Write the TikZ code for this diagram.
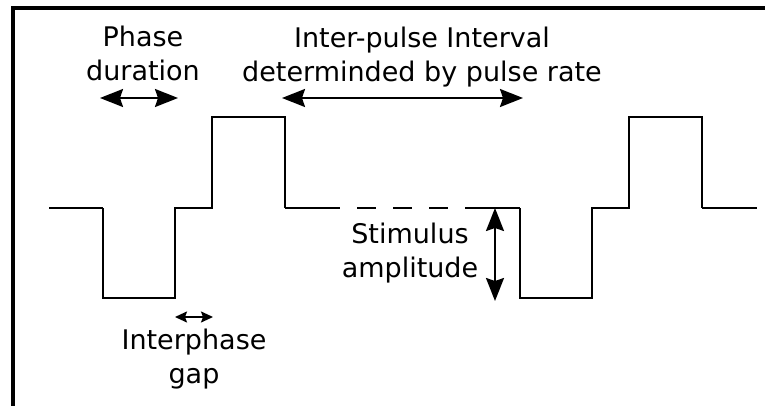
\documentclass[tikz,border=0pt]{standalone}
\usepackage{fontspec}
\setmainfont{DejaVu Sans}
\usetikzlibrary{arrows.meta}
\newcommand{\Lbl}{\fontsize{27}{34}\selectfont}

\begin{document}
\begin{tikzpicture}[x=1pt,y=-1pt,
    wave/.style={line width=1.8pt},
    bigarrow/.style={line width=2pt, {Stealth[length=23pt,width=18pt,inset=3pt]}-{Stealth[length=23pt,width=18pt,inset=3pt]}},
    smallarrow/.style={line width=1.8pt, {Stealth[length=12pt,width=11pt,inset=2pt]}-{Stealth[length=12pt,width=11pt,inset=2pt]}},
    lbl/.style={font=\Lbl, align=center, inner sep=0pt, anchor=base}]
  \useasboundingbox (0,0) rectangle (765,406);
  % frame
  \draw[line width=4pt] (12.5,406) -- (12.5,8) -- (765,8);
  % pulses
  \foreach \o in {0,417}{
    \draw[wave, line join=miter] (103+\o,208) -- (103+\o,298) -- (175+\o,298) -- (175+\o,208)
      -- (212+\o,208) -- (212+\o,117) -- (285+\o,117) -- (285+\o,208);
  }
  \draw[wave] (49,208) -- (103,208);
  \draw[wave] (285,208) -- (338,208);
  \draw[wave, dash pattern=on 19pt off 17pt, dash phase=17pt] (338,208) -- (467,208);
  \draw[wave] (467,208) -- (520,208);
  \draw[wave] (702,208) -- (757,208);
  % labels
  \node[lbl] (phase) at (143,81) {Phase\\duration};
  \node[lbl] (interval) at (422,82) {Inter-pulse Interval\\determinded by pulse rate};
  \node[lbl] (amp) at (410,277) {Stimulus\\amplitude};
  \node[lbl] (gap) at (194,383) {Interphase\\gap};
  % dimension arrows
  \coordinate (pdL) at (100,98);
  \coordinate (pdR) at (178,98);
  \coordinate (ipL) at (282,98);
  \coordinate (ipR) at (523,98);
  \coordinate (amT) at (495,208);
  \coordinate (amB) at (495,301);
  \coordinate (gpL) at (175,317);
  \coordinate (gpR) at (213,317);
  \draw[bigarrow] (pdL) -- (pdR);
  \draw[bigarrow] (ipL) -- (ipR);
  \draw[bigarrow] (amT) -- (amB);
  \draw[smallarrow] (gpL) -- (gpR);
\end{tikzpicture}
\end{document}
